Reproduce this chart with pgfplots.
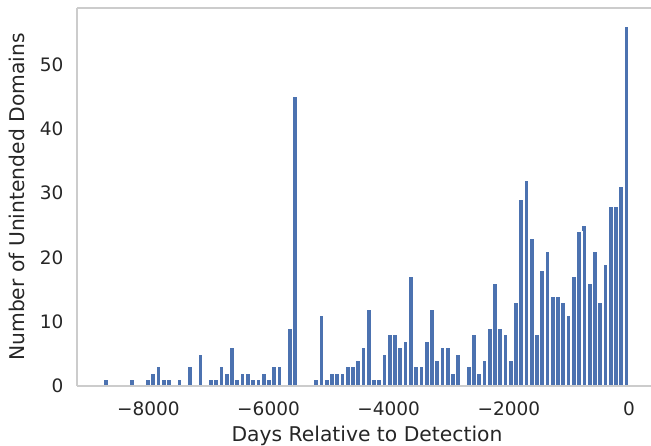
\documentclass[border=0pt]{standalone}
\usepackage{fontspec}
\setmainfont{DejaVu Sans}
\usepackage{pgfplots}
\pgfplotsset{compat=1.18}
\definecolor{barblue}{HTML}{4C72B0}
\definecolor{spinegray}{HTML}{CCCCCC}
\definecolor{txt}{HTML}{262626}

\begin{document}
\begin{tikzpicture}
\begin{axis}[
    scale only axis, width=574pt, height=378pt,
    xmin=-9187.5, xmax=365, ymin=0, ymax=58.8,
    axis x line*=box, axis y line*=left,
    axis line style={draw=spinegray, line width=1.25pt},
    axis on top,
    major tick length=0pt,
    xtick={-8000,-6000,-4000,-2000,0},
    xticklabels={−8000,−6000,−4000,−2000,0},
    ytick={0,10,20,30,40,50},
    yticklabels={0,10,20,30,40,50},
    tick label style={font=\fontsize{18.5}{22}\selectfont, text=txt},
    xticklabel style={anchor=base, yshift=-30pt},
    yticklabel style={anchor=east, xshift=-10pt},
    every axis x label/.style={at={(rel axis cs:0.5,0)}, anchor=base, yshift=-56pt, xshift=3pt,
        font=\fontsize{20.3}{24}\selectfont, text=txt},
    every axis y label/.style={at={(rel axis cs:0,0.5)}, anchor=center, rotate=90, yshift=60pt,
        font=\fontsize{20.3}{24}\selectfont, text=txt},
    xlabel={Days Relative to Detection},
    ylabel={Number of Unintended Domains},
    ybar, bar width=87.5,
]
\addplot[fill=barblue, draw=white, line width=1.5pt] coordinates {
(-8706,1) (-8269,1) (-8006,1) (-7919,2) (-7831,3) (-7744,1) (-7656,1)
(-7481,1) (-7306,3) (-7131,5) (-6956,1) (-6869,1) (-6781,3) (-6694,2)
(-6606,6) (-6519,1) (-6431,2) (-6344,2) (-6256,1) (-6169,1) (-6081,2)
(-5994,1) (-5906,3) (-5819,3) (-5644,9) (-5556,45)
(-5206,1) (-5119,11) (-5031,1) (-4944,2) (-4856,2) (-4769,2) (-4681,3)
(-4594,3) (-4506,4) (-4419,6) (-4331,12) (-4244,1) (-4156,1) (-4069,5)
(-3981,8) (-3894,8) (-3806,6) (-3719,7) (-3631,17) (-3544,3) (-3456,3)
(-3369,7) (-3281,12) (-3194,4) (-3106,6) (-3019,6) (-2931,2) (-2844,5)
(-2669,3) (-2581,8) (-2494,2) (-2406,4) (-2319,9) (-2231,16) (-2144,9)
(-2056,8) (-1969,4) (-1881,13) (-1794,29) (-1706,32) (-1619,23) (-1531,8)
(-1444,18) (-1356,21) (-1269,14) (-1181,14) (-1094,13) (-1006,11) (-919,17)
(-831,24) (-744,25) (-656,16) (-569,21) (-481,13) (-394,19) (-306,28)
(-219,28) (-131,31) (-44,56)
};
\coordinate (O) at (rel axis cs:0,0);
\end{axis}
\pgfresetboundingbox
\path[use as bounding box] (O) ++(-77pt,-60pt) rectangle ++(651pt,446pt);
\end{tikzpicture}
\end{document}
